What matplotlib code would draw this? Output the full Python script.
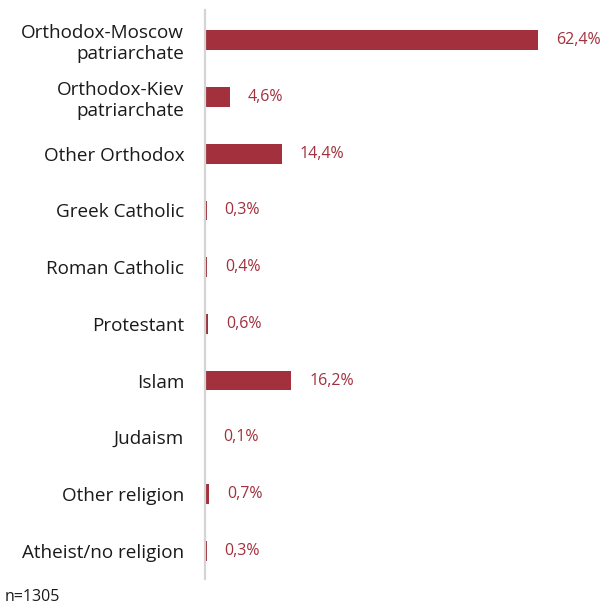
import numpy as np
import matplotlib.pyplot as plt

categories = ["Orthodox-Moscow\npatriarchate", "Orthodox-Kiev\npatriarchate", "Other Orthodox",
              "Greek Catholic", "Roman Catholic", "Protestant", "Islam", "Judaism",
              "Other religion", "Atheist/no religion"]
shares = [62.4, 4.6, 14.4, 0.3, 0.4, 0.6, 16.2, 0.1, 0.7, 0.3]
sample_note = "n=1305"

bar_color = "#A2303D"
plt.rcParams['font.family'] = ['Open Sans', 'DejaVu Sans']

fig = plt.figure(figsize=(6.01, 6.08), dpi=100)
ax = fig.add_axes([205/601, 1 - 579/608, 396/601, 567/608])

y = np.arange(len(categories))
ax.barh(y, shares, height=0.35, color=bar_color)
ax.set_ylim(len(categories) - 0.5, -0.5)
ax.set_xlim(0, 396/5.337)

# value labels to the right of each bar
for yi, v in zip(y, shares):
    ax.annotate(f"{v:.1f}%".replace(".", ","), (v, yi), xytext=(13, 0),
                textcoords="offset points", va="center", ha="left",
                fontsize=11.5, color=bar_color)

ax.set_yticks(y)
ax.set_yticklabels(categories, fontsize=13.6, color="#1a1a1a", linespacing=1.18)
ax.tick_params(axis="y", length=0, pad=15)
ax.set_xticks([])
for s in ["top", "right", "bottom"]:
    ax.spines[s].set_visible(False)
ax.spines["left"].set_color("#d4d4d4")
ax.spines["left"].set_linewidth(1.6)
ax.spines["left"].set_bounds(9.5, -0.5 - 2/56.7)

fig.text(5/601, 1 - 597/608, sample_note, fontsize=11.5, va="center", ha="left", color="#1a1a1a")

fig.savefig("out.png", dpi=100)
